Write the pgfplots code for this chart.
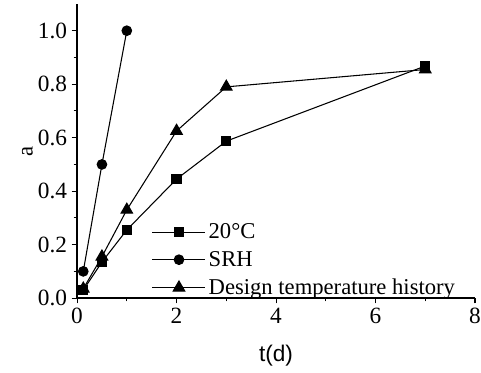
\documentclass[border=0pt]{standalone}
\usepackage{fontspec}
\setmainfont{Liberation Serif}
\setsansfont{Liberation Sans}
\usepackage{pgfplots}
\pgfplotsset{compat=1.18}
\begin{document}
\begin{tikzpicture}
\begin{axis}[
  scale only axis,
  width=299pt, height=221pt,
  xmin=0, xmax=8, ymin=0, ymax=1.1,
  axis lines=left,
  axis line style={-, line width=1pt},
  xtick={0,2,4,6,8}, minor xtick={1,3,5,7},
  ytick={0,0.2,0.4,0.6,0.8,1.0}, minor ytick={0.1,0.3,0.5,0.7,0.9},
  tick align=outside,
  major tick length=4pt, minor tick length=2.5pt,
  tick style={black, line width=0.8pt},
  yticklabel style={/pgf/number format/.cd, fixed, fixed zerofill, precision=1},
  /pgf/number format/assume math mode=true,
  tick label style={font=\fontsize{17.5}{20}\selectfont},
  xlabel={\sffamily t(d)}, ylabel={a},
  label style={font=\fontsize{17}{20}\selectfont},
  xlabel style={yshift=-9pt},
  ylabel style={yshift=-3pt},
  legend style={at={(axis cs:1.5,-0.005)}, anchor=south west, draw=none, fill=none,
    inner sep=0pt, font=\fontsize{17}{20}\selectfont, row sep=4pt},
  legend cell align=left,
  legend image code/.code={\draw[mark repeat=2,mark phase=2,#1] plot coordinates {(0cm,0cm) (0.7cm,0cm) (1.4cm,0cm)};},
  every axis plot/.append style={black, line width=0.8pt},
]
\addplot[mark=square*, mark size=3.5pt] coordinates {(0.125,0.03) (0.5,0.135) (1,0.255) (2,0.445) (3,0.587) (7,0.868)};
\addlegendentry{20°C}
\addplot[mark=*, mark size=3.6pt] coordinates {(0.125,0.10) (0.5,0.50) (1,1.0)};
\addlegendentry{SRH}
\addplot[mark=triangle*, mark size=5pt] coordinates {(0.125,0.035) (0.5,0.155) (1,0.33) (2,0.625) (3,0.79) (7,0.855)};
\addlegendentry{Design temperature history}
\coordinate (SW) at (rel axis cs:0,0);
\coordinate (NE) at (rel axis cs:1,1);
\end{axis}
\pgfresetboundingbox
\path ([xshift=-57.9pt,yshift=-55.6pt]SW) rectangle ([xshift=4.5pt,yshift=3pt]NE);
\end{tikzpicture}
\end{document}
